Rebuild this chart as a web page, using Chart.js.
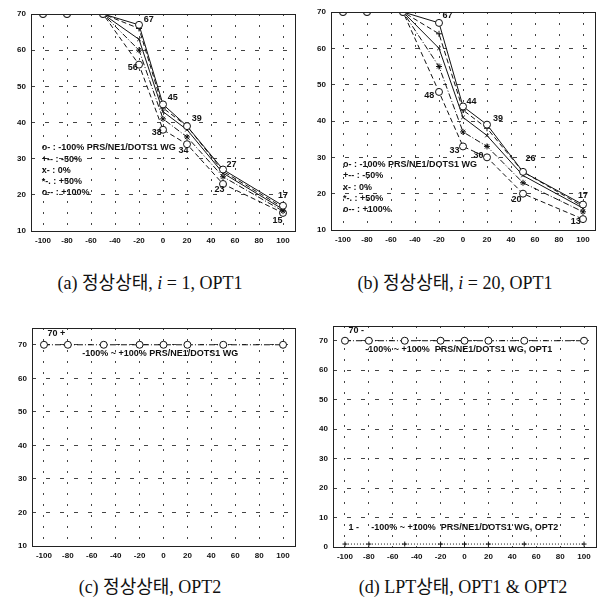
<!DOCTYPE html>
<html>
<head>
<meta charset="utf-8">
<script src="https://cdn.jsdelivr.net/npm/chart.js@4"></script>
<style>
  body { margin: 0; background: #fff; }
  #wrap { position: relative; width: 605px; height: 611px; }
  canvas { position: absolute; }
  .cap { position: absolute; font-family: "Liberation Serif", "DejaVu Serif", "Noto Sans CJK KR", serif; font-size: 18px; color: #111; white-space: nowrap; transform: translateX(-50%); }
  .cap i { font-style: italic; }
</style>
</head>
<body>
<div id="wrap">
  <canvas id="chartA" width="300" height="250" style="left:0;top:0"></canvas>
  <canvas id="chartB" width="305" height="250" style="left:300px;top:0"></canvas>
  <canvas id="chartC" width="300" height="255" style="left:0;top:310px"></canvas>
  <canvas id="chartD" width="305" height="255" style="left:300px;top:310px"></canvas>
  <div class="cap" style="left:150px;top:268px">(a) 정상상태, <i>i</i> = 1, OPT1</div>
  <div class="cap" style="left:455px;top:268px">(b) 정상상태, <i>i</i> = 20, OPT1</div>
  <div class="cap" style="left:150px;top:572px">(c) 정상상태, OPT2</div>
  <div class="cap" style="left:463px;top:572px">(d) LPT상태, OPT1 &amp; OPT2</div>
</div>
<script>
// x positions (PRS/NE1/DOTS1 WG change, %)
const xValues = [-100, -80, -50, -20, 0, 20, 50, 100]
const xTicks = [-100, -80, -60, -40, -20, 0, 20, 40, 60, 80, 100]

// (a) steady state, i = 1, OPT1
const aMinus100 = [70, 70, 70, 67, 45, 39, 27, 17]
const aMinus50  = [70, 70, 70, 66, 44, 39, 26.5, 16.5]
const aZero     = [70, 70, 70, 63, 43, 38, 26, 16]
const aPlus50   = [70, 70, 70, 60, 41, 36, 25, 15.5]
const aPlus100  = [70, 70, 70, 56, 38, 34, 23, 15]

// (b) steady state, i = 20, OPT1
const bMinus100 = [70, 70, 70, 67, 44, 39, 26, 17]
const bMinus50  = [70, 70, 70, 64, 43, 38, 26, 16.5]
const bZero     = [70, 70, 70, 60, 41, 36, 25, 16]
const bPlus50   = [70, 70, 70, 55, 37, 33, 23, 15]
const bPlus100  = [70, 70, 70, 48, 33, 30, 20, 13]

// (c) steady state OPT2, (d) LPT state
const cAll  = [70, 70, 70, 70, 70, 70, 70, 70]
const dOpt1 = [70, 70, 70, 70, 70, 70, 70, 70]
const dOpt2 = [1, 1, 1, 1, 1, 1, 1, 1]

const legendLines = ['o- : -100% PRS/NE1/DOTS1 WG', '+-- : -50%', 'x- : 0%', '*-. : +50%', 'o-- : +100%']

const tickFont = { family: 'Liberation Sans, Arial, sans-serif', size: 8, weight: 'bold' }
const noteFont = 'bold 9px "Liberation Sans", Arial, sans-serif'

function pts(ys){
  return xValues.map((x, i) => ({ x: x, y: ys[i] }))
}

// the five curves of (a)/(b)
function fiveSeries(s){
  return [
    { label: '-100%', data: pts(s[0]), borderDash: [], pointStyle: 'circle', pointRadius: 3.5, pointBackgroundColor: '#fff' },
    { label: '-50%', data: pts(s[1]), borderDash: [5, 3], pointStyle: 'cross', pointRadius: 3 },
    { label: '0%', data: pts(s[2]), borderDash: [], pointStyle: 'crossRot', pointRadius: 2.5 },
    { label: '+50%', data: pts(s[3]), borderDash: [6, 2, 1, 2], pointStyle: 'star', pointRadius: 3 },
    { label: '+100%', data: pts(s[4]), borderDash: [5, 3], pointStyle: 'circle', pointRadius: 3.5, pointBackgroundColor: '#fff' }
  ]
}

// draws box frame + text notes at data coordinates
const notesPlugin = {
  id: 'notes',
  afterDatasetsDraw(chart, args, opts){
    const ctx = chart.ctx
    const a = chart.chartArea
    ctx.save()
    ctx.strokeStyle = '#222'
    ctx.lineWidth = 1
    ctx.strokeRect(a.left + 0.5, a.top + 0.5, a.right - a.left, a.bottom - a.top)
    ctx.fillStyle = '#111'
    ctx.font = noteFont
    ctx.textBaseline = 'middle'
    ;(opts.items || []).forEach(n => {
      ctx.textAlign = n.align || 'left'
      ctx.fillText(n.text, chart.scales.x.getPixelForValue(n.x), chart.scales.y.getPixelForValue(n.y))
    })
    ctx.restore()
  }
}

function makeChart(id, datasets, yMin, yMax, yTicks, box, notes){
  const ctx = document.getElementById(id).getContext('2d')
  new Chart(ctx, {
    type: 'line',
    data: { datasets: datasets.map(d => Object.assign({
      borderColor: '#111', backgroundColor: '#111', pointBorderColor: '#111',
      borderWidth: 1, pointBorderWidth: 1, tension: 0, fill: false
    }, d)) },
    options: {
      responsive: false,
      animation: false,
      layout: { padding: { top: box.top, right: box.right, left: 0, bottom: 0 } },
      plugins: { legend: { display: false }, tooltip: { enabled: false }, notes: { items: notes } },
      scales: {
        x: {
          type: 'linear', min: -110, max: 110,
          afterBuildTicks: s => { s.ticks = xTicks.map(v => ({ value: v })) },
          afterFit: s => { s.height = box.xh },
          grid: { color: '#444', lineWidth: 1, drawTicks: false },
          border: { display: false, dash: [2, 9] },
          ticks: { font: tickFont, color: '#111', padding: 5, maxRotation: 0 }
        },
        y: {
          min: yMin, max: yMax,
          afterBuildTicks: s => { s.ticks = yTicks.map(v => ({ value: v })) },
          afterFit: s => { s.width = box.yw },
          grid: { color: '#444', lineWidth: 1, drawTicks: false },
          border: { display: false, dash: [4, 10] },
          ticks: { font: tickFont, color: '#111', padding: 5 }
        }
      }
    },
    plugins: [notesPlugin]
  })
}

const ticks10to70 = [10, 20, 30, 40, 50, 60, 70]
const ticks0to70 = [0, 10, 20, 30, 40, 50, 60, 70]

const notesA = [
  { x: -16, y: 68.5, text: '67' }, { x: -21, y: 55.3, text: '56', align: 'right' },
  { x: 4, y: 47, text: '45' }, { x: -1, y: 37.3, text: '38', align: 'right' },
  { x: 24, y: 41, text: '39' }, { x: 17, y: 32.2, text: '34', align: 'center' },
  { x: 53, y: 28.5, text: '27' }, { x: 47, y: 21.6, text: '23', align: 'center' },
  { x: 100, y: 19.7, text: '17', align: 'center' }, { x: 95.5, y: 13, text: '15', align: 'center' }
].concat(legendLines.map((t, i) => ({ x: -101, y: 33 - i * 3.1, text: t })))

const notesB = [
  { x: -17, y: 69, text: '67' }, { x: -24, y: 47, text: '48', align: 'right' },
  { x: 3, y: 45.3, text: '44' }, { x: -3, y: 32, text: '33', align: 'right' },
  { x: 25, y: 40.7, text: '39' }, { x: 13, y: 30.6, text: '30', align: 'center' },
  { x: 52, y: 29.8, text: '26' }, { x: 44.5, y: 18.3, text: '20', align: 'center' },
  { x: 100, y: 19.5, text: '17', align: 'center' }, { x: 94, y: 12.4, text: '13', align: 'center' }
].concat(legendLines.map((t, i) => ({ x: -100, y: 28 - i * 3.1, text: t })))

const notesC = [
  { x: -97, y: 73.5, text: '70 +' },
  { x: -68, y: 67.3, text: '-100% ~ +100% PRS/NE1/DOTS1 WG' }
]
const notesD = [
  { x: -97, y: 73.5, text: '70 -' },
  { x: -83, y: 67, text: '-100% ~ +100%  PRS/NE1/DOTS1 WG, OPT1' },
  { x: -97, y: 6.5, text: '1 -' },
  { x: -78, y: 6.5, text: '-100% ~ +100%  PRS/NE1/DOTS1 WG, OPT2' }
]

makeChart('chartA', fiveSeries([aMinus100, aMinus50, aZero, aPlus50, aPlus100]), 10, 70, ticks10to70,
  { top: 14, right: 5, yw: 31, xh: 19 }, notesA)
makeChart('chartB', fiveSeries([bMinus100, bMinus50, bZero, bPlus50, bPlus100]), 10, 70, ticks10to70,
  { top: 12, right: 10, yw: 31, xh: 20 }, notesB)
makeChart('chartC', [
  { label: '-100% ~ +100%', data: pts(cAll), borderDash: [6, 2, 1, 2], pointStyle: 'circle', pointRadius: 3.5, pointBackgroundColor: '#fff' }
], 10, 75, ticks10to70, { top: 18, right: 4, yw: 32, xh: 19 }, notesC)
makeChart('chartD', [
  { label: 'OPT1', data: pts(dOpt1), borderDash: [6, 2, 1, 2], pointStyle: 'circle', pointRadius: 3.5, pointBackgroundColor: '#fff' },
  { label: 'OPT2', data: pts(dOpt2), borderDash: [1, 2], pointStyle: 'cross', pointRadius: 2.5 }
], 0, 75, ticks0to70, { top: 16, right: 9, yw: 33, xh: 18 }, notesD)
</script>
</body>
</html>
